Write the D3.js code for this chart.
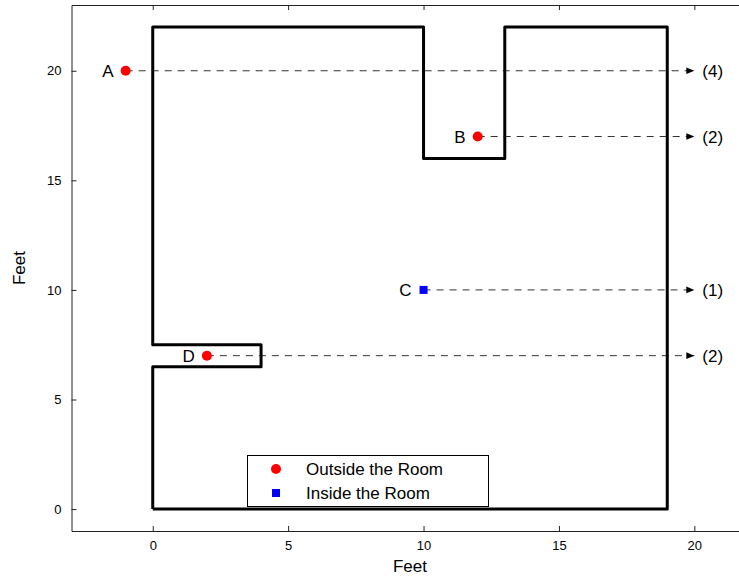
<!DOCTYPE html>
<html>
<head>
<meta charset="utf-8">
<script src="https://cdn.jsdelivr.net/npm/d3@7/dist/d3.min.js"></script>
<style>
  html, body { margin: 0; padding: 0; background: #fff; }
  svg { display: block; font-family: "Liberation Sans", Arial, sans-serif; }
</style>
</head>
<body>
<svg id="chart" width="739" height="578"></svg>
<script>
// Room outline (feet), traced clockwise from the origin
const wallX = [0, 0, 4, 4, 0, 0, 10, 10, 13, 13, 19, 19, 0];
const wallY = [0, 6.5, 6.5, 7.5, 7.5, 22, 22, 16, 16, 22, 22, 0, 0];

// Test points and ray-crossing counts
const pointNames = ["A", "B", "C", "D"];
const pointX = [-1, 12, 10, 2];
const pointY = [20, 17, 10, 7];
const pointInside = [false, false, true, false];
const crossings = [4, 2, 1, 2];
const rayEndX = 20;

const xTicks = [0, 5, 10, 15, 20];
const yTicks = [0, 5, 10, 15, 20];
const legendLabels = ["Outside the Room", "Inside the Room"];

const svg = d3.select("#chart");
const plotLeft = 71.5, plotTop = 5, plotRight = 748.5, plotBottom = 531;

const x = d3.scaleLinear().domain([-3, 22]).range([plotLeft, plotRight]);
const y = d3.scaleLinear().domain([-1, 23]).range([plotBottom, plotTop]);

const axisColor = "#222";

// Axes with inward ticks (bottom/top and left)
const gx = svg.append("g").attr("transform", `translate(0,${plotBottom})`)
  .call(d3.axisBottom(x).tickValues(xTicks).tickSizeInner(-5).tickSizeOuter(0).tickPadding(10));
const gxt = svg.append("g").attr("transform", `translate(0,${plotTop})`)
  .call(d3.axisTop(x).tickValues(xTicks).tickSizeInner(-5).tickSizeOuter(0).tickFormat(""));
const gy = svg.append("g").attr("transform", `translate(${plotLeft},0)`)
  .call(d3.axisLeft(y).tickValues(yTicks).tickSizeInner(-5).tickSizeOuter(0).tickPadding(10));

[gx, gxt, gy].forEach(g => {
  g.select(".domain").attr("stroke", axisColor).attr("stroke-width", 1);
  g.selectAll(".tick line").attr("stroke", axisColor);
  g.selectAll(".tick text").attr("font-size", 13).attr("fill", "#000")
    .attr("font-family", "'Liberation Sans', Arial, sans-serif");
});

// Axis titles
svg.append("text").attr("x", (plotLeft + plotRight) / 2).attr("y", 572)
  .attr("text-anchor", "middle").attr("font-size", 17).text("Feet");
svg.append("text")
  .attr("transform", `translate(25,${(plotTop + plotBottom) / 2}) rotate(-90)`)
  .attr("text-anchor", "middle").attr("font-size", 17).text("Feet");

// Arrowhead marker
svg.append("defs").append("marker")
  .attr("id", "arrow").attr("viewBox", "0 0 10 10")
  .attr("refX", 10).attr("refY", 5)
  .attr("markerWidth", 10).attr("markerHeight", 8)
  .attr("markerUnits", "userSpaceOnUse")
  .attr("orient", "auto")
  .append("path").attr("d", "M0,0.8 L10,5 L0,9.2 Z").attr("fill", "#000");

// Dashed rays from each point
const idx = d3.range(pointNames.length);
svg.append("g").selectAll("line").data(idx).join("line")
  .attr("x1", i => x(pointX[i])).attr("y1", i => y(pointY[i]))
  .attr("x2", x(rayEndX)).attr("y2", i => y(pointY[i]))
  .attr("stroke", "#333").attr("stroke-width", 1)
  .attr("stroke-dasharray", "7,6")
  .attr("marker-end", "url(#arrow)");

// Crossing counts
svg.append("g").selectAll("text").data(idx).join("text")
  .attr("x", x(rayEndX) + 8).attr("y", i => y(pointY[i]) + 6)
  .attr("font-size", 17).text(i => `(${crossings[i]})`);

// Room walls
const line = d3.line().x(d => x(d[0])).y(d => y(d[1]));
svg.append("path")
  .attr("d", line(wallX.map((v, i) => [v, wallY[i]])))
  .attr("fill", "none").attr("stroke", "#000").attr("stroke-width", 3)
  .attr("stroke-linejoin", "round");

// Points
idx.forEach(i => {
  if (pointInside[i]) {
    svg.append("rect")
      .attr("x", x(pointX[i]) - 4).attr("y", y(pointY[i]) - 4)
      .attr("width", 8).attr("height", 8).attr("fill", "#0000ff");
  } else {
    svg.append("circle")
      .attr("cx", x(pointX[i])).attr("cy", y(pointY[i]))
      .attr("r", 5).attr("fill", "#ff0000");
  }
  svg.append("text")
    .attr("x", x(pointX[i]) - 12).attr("y", y(pointY[i]) + 6)
    .attr("text-anchor", "end").attr("font-size", 17).text(pointNames[i]);
});

// Legend
const lg = svg.append("g");
lg.append("rect").attr("x", 247.5).attr("y", 455.5).attr("width", 241).attr("height", 51)
  .attr("fill", "#fff").attr("stroke", "#000").attr("stroke-width", 1);
lg.append("circle").attr("cx", 276).attr("cy", 469).attr("r", 5).attr("fill", "#ff0000");
lg.append("rect").attr("x", 272).attr("y", 489).attr("width", 8).attr("height", 8).attr("fill", "#0000ff");
legendLabels.forEach((t, i) => {
  lg.append("text").attr("x", 306).attr("y", 475 + i * 24)
    .attr("font-size", 17).text(t);
});
</script>
</body>
</html>
